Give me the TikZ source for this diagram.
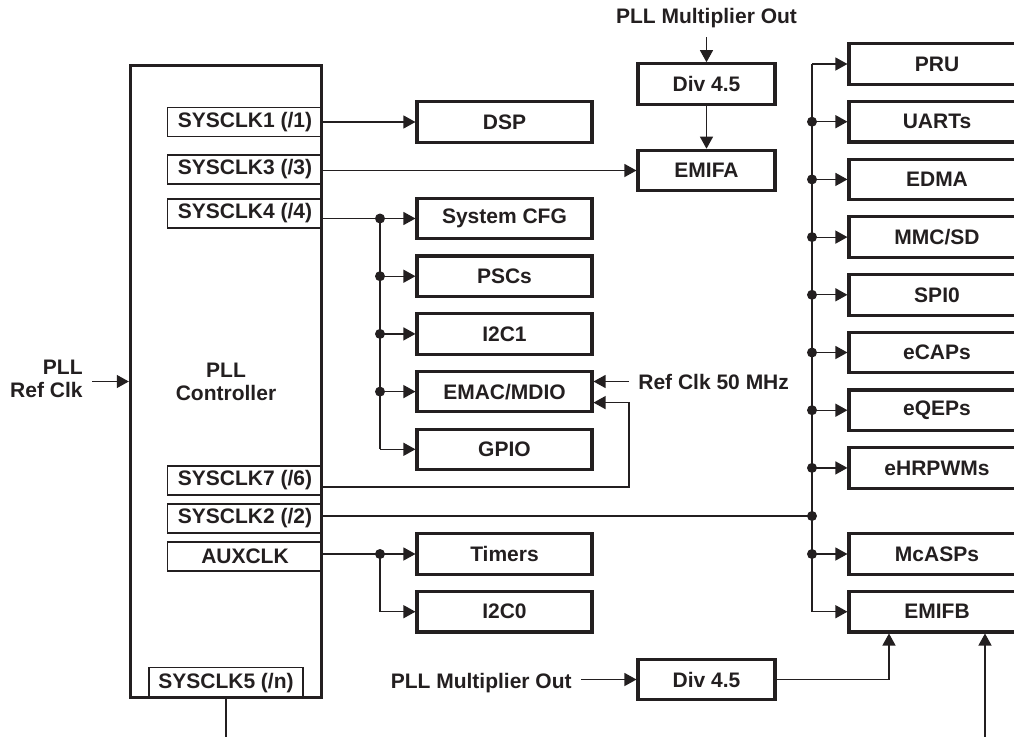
\documentclass[tikz,border=0pt]{standalone}
\usepackage{fontspec}
\setmainfont{Liberation Sans}
\definecolor{ink}{HTML}{231F20}
\usetikzlibrary{arrows.meta,positioning}
\newcommand\diafont{\fontsize{10.5}{11.4}\selectfont\bfseries}
\tikzset{
  node_blk/.style={draw=ink,line width=1.55pt,minimum width=87.5pt,minimum height=20.25pt,
    inner sep=0pt,font=\diafont\color{ink},align=center},
  node_div/.style={node_blk,minimum width=68.5pt},
  node_per/.style={node_blk,minimum width=88pt},
  node_clk/.style={draw=ink,line width=0.7pt,minimum width=77.5pt,minimum height=14.5pt,
    inner sep=0pt,font=\diafont\color{ink},anchor=east},
  node_ctrl/.style={draw=ink,line width=1.7pt,minimum width=95.5pt,minimum height=316pt,
    font=\diafont\color{ink},align=center},
  lbl/.style={inner sep=4.5pt,font=\diafont\color{ink},align=right},
  wire/.style={draw=ink,line width=0.6pt},
  arr/.style={wire,-{Triangle[length=6pt,width=6.5pt]}},
}
\begin{document}
\begin{tikzpicture}[x=0.5pt,y=-0.5pt,node distance=7.05pt]
    \useasboundingbox (0,0) rectangle (1014,736);
    % PLL controller and its clock outputs
    \node[node_ctrl] (pll) at (226,381.5) {PLL\\Controller};
    \node[node_clk] (s1) at (pll.east |- 0,122) {SYSCLK1 (/1)};
    \node[node_clk] (s3) at (pll.east |- 0,169.5) {SYSCLK3 (/3)};
    \node[node_clk] (s4) at (pll.east |- 0,213.5) {SYSCLK4 (/4)};
    \node[node_clk] (s7) at (pll.east |- 0,480.5) {SYSCLK7 (/6)};
    \node[node_clk] (s2) at (pll.east |- 0,518.5) {SYSCLK2 (/2)};
    \node[node_clk] (aux) at (pll.east |- 0,556.5) {AUXCLK};
    \node[node_clk,anchor=south,minimum width=77pt,minimum height=15.5pt] (s5) at (pll.south) {SYSCLK5 (/n)};
    \node[lbl,anchor=east] (refin) at (92,378.5) {PLL\\Ref Clk};
    % middle column
    \node[node_blk] (dsp) at (504.5,122) {DSP};
    \node[node_blk] (cfg) at (504.5,218.5) {System CFG};
    \node[node_blk,below=of cfg] (psc) {PSCs};
    \node[node_blk,below=of psc] (i2c1) {I2C1};
    \node[node_blk,below=of i2c1] (emac) {EMAC/MDIO};
    \node[node_blk,below=of emac] (gpio) {GPIO};
    \node[node_blk] (tim) at (504.5,554) {Timers};
    \node[node_blk,below=of tim] (i2c0) {I2C0};
    % dividers
    \node[lbl,align=center] (mulT) at (706.5,18) {PLL Multiplier Out};
    \node[node_div] (divT) at (706.5,84) {Div 4.5};
    \node[node_div] (emifa) at (706.5,170.5) {EMIFA};
    \node[node_div] (divB) at (706.5,679.5) {Div 4.5};
    \node[lbl,anchor=east] (mulB) at (581,683) {PLL Multiplier Out};
    \node[lbl,anchor=west] (refc) at (629,381.5) {Ref Clk 50 MHz};
    % right column
    \node[node_per] (pru) at (937,64) {PRU};
    \node[node_per,below=of pru] (uarts) {UARTs};
    \node[node_per,below=of uarts] (edma) {EDMA};
    \node[node_per,below=of edma] (mmc) {MMC/SD};
    \node[node_per,below=of mmc] (spi) {SPI0};
    \node[node_per,below=of spi] (ecap) {eCAPs};
    \node[node_per,below=of ecap] (eqep) {eQEPs};
    \node[node_per,below=of eqep] (ehrpwm) {eHRPWMs};
    \node[node_per] (mcasp) at (937,554) {McASPs};
    \node[node_per,below=of mcasp] (emifb) {EMIFB};
    % bus positions
    \coordinate (xa) at (380,0); \coordinate (xR) at (812,0); \coordinate (xe) at (889,0);
    \coordinate (bot1) at (226,742); \coordinate (bot2) at (985,742);
    \coordinate (emacB) at ([yshift=-5.5pt]emac.east);
    \coordinate (s7o) at ([yshift=-3.25pt]s7.east);
    \coordinate (s2o) at ([yshift=1.25pt]s2.east);
    % connectors
    \draw[arr](refin.east |- pll)--(pll);
    \draw[arr](s1.east |- dsp)--(dsp);\draw[arr](s3.east |- emifa)--(emifa);
    \draw[arr](mulT)--(divT);\draw[arr](divT)--(emifa);
    \draw[arr](s4.east |- cfg)--(cfg);\draw[wire](xa |- cfg)--(xa |- gpio);
    \foreach \n in {psc,i2c1,emac,gpio} {\draw[arr](xa |- \n)--(\n);}
    \foreach \n in {cfg,psc,i2c1,emac,tim} {\fill[ink](xa |- \n) circle (2.5pt);}
    \draw[arr](refc.west)--(refc.west -| emac.east);
    \draw[arr](s7o) -| (refc.west |- emacB)--(emacB);
    \draw[wire](s2o)--(xR |- s2o);\fill[ink](xR |- s2o) circle (2.5pt);
    \draw[arr](aux.east |- tim)--(tim);\draw[arr](xa |- tim) |- (i2c0);
    \draw[wire](xR |- pru)--(xR |- emifb);
    \foreach \n in {pru,uarts,edma,mmc,spi,ecap,eqep,ehrpwm,mcasp,emifb} {\draw[arr](xR |- \n)--(\n);}
    \foreach \n in {uarts,edma,mmc,spi,ecap,eqep,ehrpwm,mcasp} {\fill[ink](xR |- \n) circle (2.5pt);}
    \draw[arr](mulB.east |- divB)--(divB);\draw[arr](divB) -| (xe |- emifb.south);
    \draw[arr](bot2)--(bot2 |- emifb.south);
    \draw[wire](s5.south)--(s5.south |- bot1);
  \end{tikzpicture}
\end{document}
